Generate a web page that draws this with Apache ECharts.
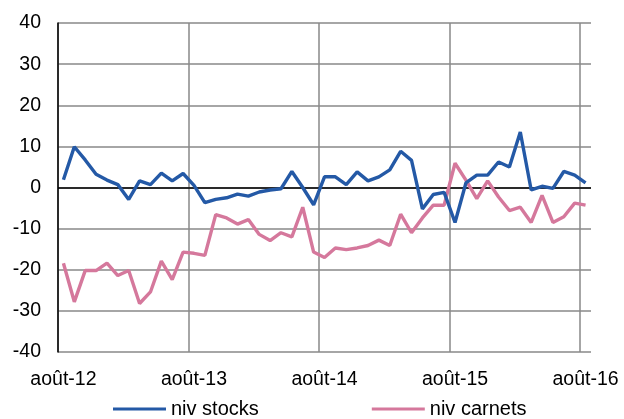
<!DOCTYPE html>
<html>
<head>
<meta charset="utf-8">
<script src="https://cdn.jsdelivr.net/npm/echarts@6/dist/echarts.min.js"></script>
<style>
html,body{margin:0;padding:0;background:#fff;}
#chart{width:624px;height:419px;}
</style>
</head>
<body>
<div id="chart"></div>
<script>
// Monthly categories, août-12 .. août-16
const months = ['janv','févr','mars','avr','mai','juin','juil','août','sept','oct','nov','déc'];
const categories = [];
for (let y = 12; y <= 16; y++) {
  for (let m = 0; m < 12; m++) {
    if ((y === 12 && m < 7) || (y === 16 && m > 7)) continue;
    categories.push(months[m] + '-' + y);
  }
}
const seriesNames = ['niv stocks', 'niv carnets'];
const nivStocks = [1.9, 9.9, 6.7, 3.2, 1.8, 0.7, -2.9, 1.6, 0.7, 3.5, 1.6, 3.4,
  0.5, -3.7, -2.9, -2.5, -1.6, -2.1, -1.1, -0.6, -0.3, 3.9, 0.0, -4.2,
  2.6, 2.6, 0.7, 3.8, 1.6, 2.6, 4.3, 8.8, 6.6, -5.2, -1.7, -1.2,
  -8.5, 1.1, 3.0, 3.0, 6.2, 5.0, 13.5, -0.6, 0.3, -0.2, 3.9, 3.0, 1.1];
const nivCarnets = [-18.4, -27.8, -20.2, -20.2, -18.4, -21.4, -20.2, -28.2, -25.4, -17.9, -22.4, -15.7,
  -16.0, -16.5, -6.6, -7.4, -8.9, -7.8, -11.4, -12.9, -11.0, -12.0, -4.8, -15.7,
  -17.0, -14.7, -15.1, -14.7, -14.1, -12.8, -14.1, -6.5, -11.0, -7.4, -4.3, -4.3,
  5.9, 1.8, -2.7, 1.6, -2.3, -5.6, -4.8, -8.5, -1.9, -8.5, -7.1, -3.8, -4.3];
const yMin = -40, yMax = 40, yStep = 10;

const FONT = '"Liberation Sans", Arial, sans-serif';
const GRID = '#888888';
const chart = echarts.init(document.getElementById('chart'), null, {renderer: 'canvas'});
chart.setOption({
  animation: false,
  backgroundColor: '#ffffff',
  grid: {left: 58, right: 33, top: 23, bottom: 67, containLabel: false},
  legend: {
    top: 394, left: 108,
    icon: 'rect', itemWidth: 53, itemHeight: 3, itemGap: 113,
    textStyle: {fontFamily: FONT, fontSize: 20, color: '#000'},
    data: seriesNames
  },
  xAxis: {
    type: 'category',
    data: categories,
    boundaryGap: true,
    axisLine: {show: false},
    axisTick: {show: false, interval: 11},
    axisLabel: {interval: 11, margin: 18, fontFamily: FONT, fontSize: 19.5, color: '#000'},
    splitLine: {show: true, interval: 11, showMaxLine: false,
      lineStyle: {color: [GRID, GRID, GRID, GRID, GRID, 'rgba(0,0,0,0)'], width: 1.5}}
  },
  yAxis: {
    type: 'value', min: yMin, max: yMax, interval: yStep,
    axisLine: {show: true, lineStyle: {color: '#000', width: 1.5}},
    axisTick: {show: false},
    axisLabel: {margin: 17, fontFamily: FONT, fontSize: 19.5, color: '#000'},
    splitLine: {show: true, lineStyle: {color: GRID, width: 1.5}}
  },
  series: [
    {
      name: seriesNames[0], type: 'line', data: nivStocks,
      symbol: 'none', lineStyle: {color: '#2459A6', width: 3.4}, itemStyle: {color: '#2459A6'},
      z: 3,
      markLine: {silent: true, symbol: 'none', label: {show: false},
        lineStyle: {color: '#000', width: 1.5, type: 'solid'}, data: [{yAxis: 0}], z: 1}
    },
    {
      name: seriesNames[1], type: 'line', data: nivCarnets,
      symbol: 'none', lineStyle: {color: '#D5789C', width: 3.4}, itemStyle: {color: '#D5789C'},
      z: 2
    }
  ]
});
</script>
</body>
</html>
